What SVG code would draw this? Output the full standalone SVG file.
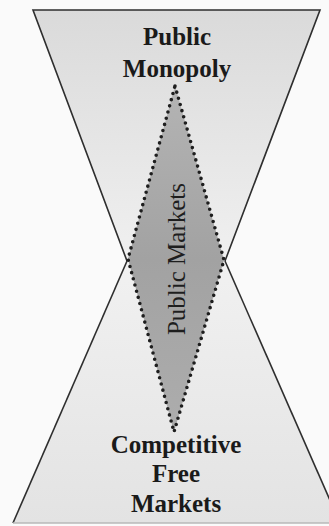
<svg xmlns="http://www.w3.org/2000/svg" width="329" height="526" viewBox="0 0 329 526">
  <defs>
    <linearGradient id="gTop" x1="0" y1="10" x2="0" y2="261" gradientUnits="userSpaceOnUse">
      <stop offset="0" stop-color="#dadada"/>
      <stop offset="1" stop-color="#f0f0f0"/>
    </linearGradient>
    <linearGradient id="gBot" x1="0" y1="261" x2="0" y2="523" gradientUnits="userSpaceOnUse">
      <stop offset="0" stop-color="#f1f1f1"/>
      <stop offset="1" stop-color="#e3e3e3"/>
    </linearGradient>
    <linearGradient id="gDia" x1="0" y1="86" x2="0" y2="432" gradientUnits="userSpaceOnUse">
      <stop offset="0" stop-color="#b4b4b4"/>
      <stop offset="0.5" stop-color="#a2a2a2"/>
      <stop offset="1" stop-color="#adadad"/>
    </linearGradient>
  </defs>
  <style>
    .side { fill: none; stroke: #2e2e2e; stroke-width: 1.6; stroke-linejoin: miter; }
    .title { font-family: "Liberation Serif", "Times New Roman", serif; font-weight: bold; font-size: 25px; fill: #1a1a1a; text-anchor: middle; }
    .vert { font-family: "Liberation Serif", "Times New Roman", serif; font-size: 25px; fill: #1e1e1e; text-anchor: middle; }
    .dots { fill: url(#gDia); stroke: #1e1e1e; stroke-width: 3.6; stroke-linecap: round; stroke-dasharray: 0 6.4; }
  </style>
  <rect x="0" y="0" width="329" height="526" fill="#fafafa"/>

  <g id="public-monopoly">
    <polygon points="33,10 320,10 225,261 127,261" fill="url(#gTop)"/>
    <polyline class="side" points="127,261 33,10 320,10 225,261"/>
    <text class="title" x="177" y="45">Public</text>
    <text class="title" x="177" y="77">Monopoly</text>
  </g>

  <g id="competitive-free-markets">
    <polygon points="127,261 225,261 340,523 13,523" fill="url(#gBot)"/>
    <polyline class="side" points="127,261 13,523"/>
    <polyline class="side" points="225,261 340,523"/>
    <line x1="13" y1="523" x2="329" y2="523" stroke="#b8b8b8" stroke-width="1.5"/>
    <text class="title" x="176" y="453">Competitive</text>
    <text class="title" x="176" y="482">Free</text>
    <text class="title" x="176" y="512">Markets</text>
  </g>

  <g id="public-markets">
    <polygon class="dots" points="175,86 224,260 174,432 128,259"/>
    <text class="vert" transform="translate(185,259) rotate(-90)">Public Markets</text>
  </g>

  <g id="connectors"/>
</svg>
